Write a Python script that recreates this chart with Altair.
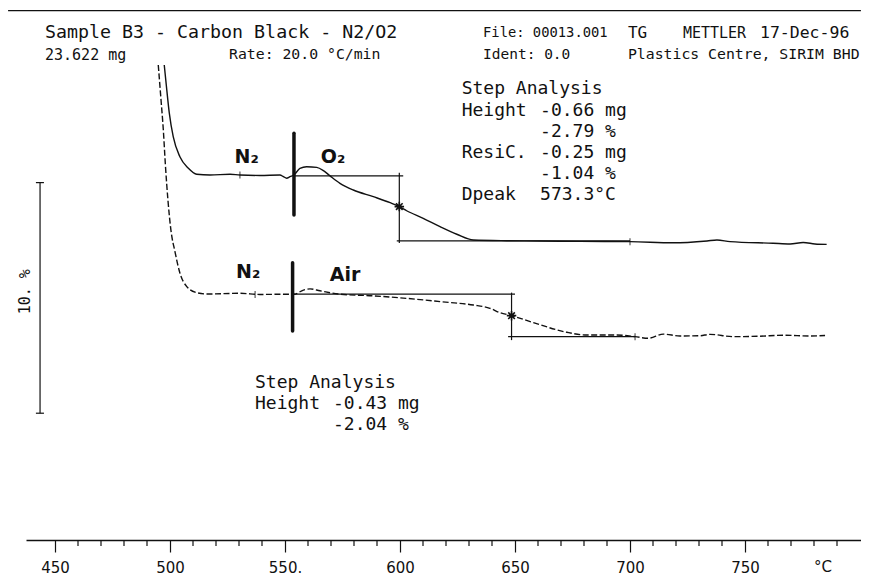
import altair as alt
import pandas as pd

# ---------------- data ----------------
# temperature (°C) and relative mass (%) as plotted (lower curve is offset)
solid_T = [497.5, 498.6, 499.7, 501.4, 504.3, 508.0, 511.6, 517.4, 526.1, 530.4, 539.1,
           547.8, 549.3, 550.7, 552.2, 553.9, 556.5, 559.4, 563.8, 566.7, 569.6, 573.9,
           579.7, 588.4, 595.7, 599.7, 602.9, 610.1, 617.4, 624.7, 631.9, 646.4, 660.9,
           678.3, 700.0, 718.7, 733.5, 737.8, 743.5, 762.2, 769.6, 775.3, 780.4, 785.5]
solid_v = [104.77, 103.69, 102.68, 101.66, 100.79, 100.29, 100.03, 100.0, 100.03, 100.0, 99.98,
           100.0, 99.93, 99.86, 99.93, 100.0, 100.29, 100.36, 100.33, 100.19, 99.96, 99.64,
           99.35, 99.06, 98.80, 98.63, 98.45, 98.12, 97.76, 97.43, 97.18, 97.15, 97.14,
           97.12, 97.11, 97.06, 97.14, 97.18, 97.11, 97.04, 97.01, 97.07, 97.01, 96.99]

dashed_T = [494.9, 496.1, 497.1, 498.0, 499.1, 500.4, 502.2, 504.3, 507.3, 511.6, 516.0,
            530.4, 539.1, 550.7, 553.9, 558.0, 560.9, 565.2, 573.9, 588.4, 602.9, 617.4,
            631.9, 639.1, 643.5, 648.5, 658.0, 672.5, 681.2, 694.2, 702.2, 708.0, 714.5,
            721.7, 730.4, 734.8, 744.9, 756.5, 766.7, 778.3, 784.8]
dashed_v = [104.77, 103.25, 101.95, 100.43, 98.92, 97.61, 96.66, 95.75, 95.16, 94.90, 94.84,
            94.87, 94.82, 94.83, 94.83, 95.01, 95.06, 94.98, 94.83, 94.76, 94.65, 94.51,
            94.36, 94.22, 94.03, 93.90, 93.60, 93.18, 93.06, 93.06, 92.99, 92.92, 93.10,
            93.02, 93.03, 93.09, 92.99, 93.01, 93.05, 93.02, 93.04]

# step-analysis construction lines, 10 % scale bar, frame line
seg_T  = [553.9, 599.7, 598.6, 553.9, 648.5, 647.0, 443.5, 441.7, 441.7, 429.6]
seg_T2 = [601.4, 599.7, 700.0, 650.0, 648.5, 702.2, 443.5, 445.2, 445.2, 800.4]
seg_v  = [99.96, 100.10, 97.14, 94.83, 94.90, 92.99, 99.67, 99.67, 89.67, 107.13]
seg_v2 = [99.96, 97.05, 97.14, 94.83, 92.84, 92.99, 89.67, 99.67, 89.67, 107.13]

# gas switch bars
switch_T = [553.9, 553.3]
switch_v = [101.81, 96.20]
switch_v2 = [98.27, 93.24]

# evaluation limit ticks on baselines
lim_T = [530.4, 537.0, 700.0, 702.2]
lim_v = [100.0, 94.82, 97.11, 92.99]

# inflection points (stars)
star_T = [599.7, 648.5]
star_v = [98.63, 93.90]

# axis ticks
major_ticks = [450, 500, 550, 600, 650, 700, 750]
minor_ticks = [460, 470, 480, 490, 510, 520, 530, 540, 560, 570, 580, 590, 610, 620, 630,
               640, 660, 670, 680, 690, 710, 720, 730, 740, 760, 770, 780, 790]

# text annotations
txt = ["Sample B3 - Carbon Black - N2/O2", "23.622 mg", "Rate: 20.0 °C/min",
       "File: 00013.001", "TG", "METTLER", "17-Dec-96", "Ident: 0.0",
       "Plastics Centre, SIRIM BHD",
       "Step Analysis", "Height", "-0.66 mg", "-2.79 %", "ResiC.", "-0.25 mg",
       "-1.04 %", "Dpeak", "573.3°C",
       "Step Analysis", "Height", "-0.43 mg", "-2.04 %"]
txt_T = [445.65, 445.65, 525.65, 636.1, 699.1, 723.0, 756.5, 636.1, 699.1,
         626.8, 626.8, 660.9, 660.9, 626.8, 660.9, 660.9, 626.8, 660.9,
         536.96, 536.96, 570.87, 570.87]
txt_v = [106.16, 105.20, 105.20, 106.16, 106.16, 106.16, 106.16, 105.20, 105.20,
         103.72, 102.79, 102.79, 101.88, 100.97, 100.97, 100.04, 99.13, 99.13,
         90.98, 90.07, 90.07, 89.16]
txt_size = [18.3, 15, 14.8, 13.8, 16, 15, 16.5, 14.5, 14.8,
            18, 18, 18, 18, 18, 18, 18, 18, 18,
            18, 18, 18, 18]

gas_txt = ["N₂", "O₂", "N₂", "Air"]
gas_T = [533.3, 570.9, 534.0, 576.1]
gas_v = [100.79, 100.79, 95.81, 95.66]

scale_txt = ["10. %"]
scale_T = [437.0]
scale_v = [94.94]

unit_txt = ["°C"]
unit_T = [783.9]
unit_v = [82.98]

# ---------------- chart ----------------
INK = "#111111"
MONO = "DejaVu Sans Mono"

XS = alt.Scale(domain=[437.391, 800.435], nice=False, zero=False)
YS = alt.Scale(domain=[84.172, 107.242], nice=False, zero=False)
XAXIS = alt.Axis(values=major_ticks, title=None, grid=False, tickSize=12, tickWidth=1.2,
                 tickColor=INK, domainColor=INK, domainWidth=1.3,
                 labelFont="DejaVu Sans", labelFontSize=15, labelColor=INK, labelPadding=15,
                 labelBaseline="middle", labelFlush=False, labelOverlap=False,
                 labelExpr="datum.value == 550 ? '550.' : datum.label")


def X(f="T"):
    return alt.X(f + ":Q", scale=XS, axis=XAXIS)


def Y(f="v"):
    return alt.Y(f + ":Q", scale=YS, axis=None)


solid = alt.Chart(pd.DataFrame({"T": solid_T, "v": solid_v})).mark_line(
    color=INK, strokeWidth=1.4, interpolate="monotone").encode(x=X(), y=Y())

dashed = alt.Chart(pd.DataFrame({"T": dashed_T, "v": dashed_v})).mark_line(
    color=INK, strokeWidth=1.4, strokeDash=[6, 2.5], interpolate="monotone").encode(x=X(), y=Y())

segs = alt.Chart(pd.DataFrame({"T": seg_T, "T2": seg_T2, "v": seg_v, "v2": seg_v2})).mark_rule(
    color=INK, strokeWidth=1.2).encode(x=X(), x2="T2:Q", y=Y(), y2="v2:Q")

switch = alt.Chart(pd.DataFrame({"T": switch_T, "v": switch_v, "v2": switch_v2})).mark_rule(
    color=INK, strokeWidth=3.5, strokeCap="round").encode(x=X(), y=Y(), y2="v2:Q")

lims = alt.Chart(pd.DataFrame({"T": lim_T, "v": lim_v})).mark_tick(
    color=INK, orient="vertical", size=7, thickness=1.2).encode(x=X(), y=Y())

stars = alt.Chart(pd.DataFrame({"T": star_T, "v": star_v})).mark_point(
    shape="M-1,0L1,0M0,-1L0,1M-0.7,-0.7L0.7,0.7M-0.7,0.7L0.7,-0.7",
    filled=False, size=90, strokeWidth=1.6, color=INK, opacity=1).encode(x=X(), y=Y())

minor = alt.Chart(pd.DataFrame({"T": minor_ticks})).mark_rule(
    color=INK, strokeWidth=1.2).encode(x=X(), y=alt.value(532), y2=alt.value(538))

texts = alt.Chart(pd.DataFrame({"T": txt_T, "v": txt_v, "t": txt, "fs": txt_size})).mark_text(
    font=MONO, color=INK, align="left", baseline="middle").encode(
    x=X(), y=Y(), text="t:N", size=alt.Size("fs:Q", scale=None, legend=None))

gas = alt.Chart(pd.DataFrame({"T": gas_T, "v": gas_v, "t": gas_txt})).mark_text(
    font="DejaVu Sans", fontWeight="bold", fontSize=19, color=INK,
    align="center", baseline="middle").encode(x=X(), y=Y(), text="t:N")

scale_lbl = alt.Chart(pd.DataFrame({"T": scale_T, "v": scale_v, "t": scale_txt})).mark_text(
    font=MONO, fontSize=15, color=INK, angle=270,
    align="center", baseline="middle").encode(x=X(), y=Y(), text="t:N")

unit_lbl = alt.Chart(pd.DataFrame({"T": unit_T, "v": unit_v, "t": unit_txt})).mark_text(
    font="DejaVu Sans", fontSize=15, color=INK, align="center", baseline="middle").encode(
    x=X(), y=Y(), text="t:N")

chart = alt.layer(
    minor, segs, switch, lims, dashed, solid, stars, texts, gas, scale_lbl, unit_lbl
).properties(
    width=835, height=532,
    padding={"left": 18, "top": 0, "right": 0, "bottom": 44},
    autosize=alt.AutoSizeParams(type="none"),
    background="white",
).configure_view(stroke=None)

chart.save("out.html", embed_options={"renderer": "svg", "actions": False})
